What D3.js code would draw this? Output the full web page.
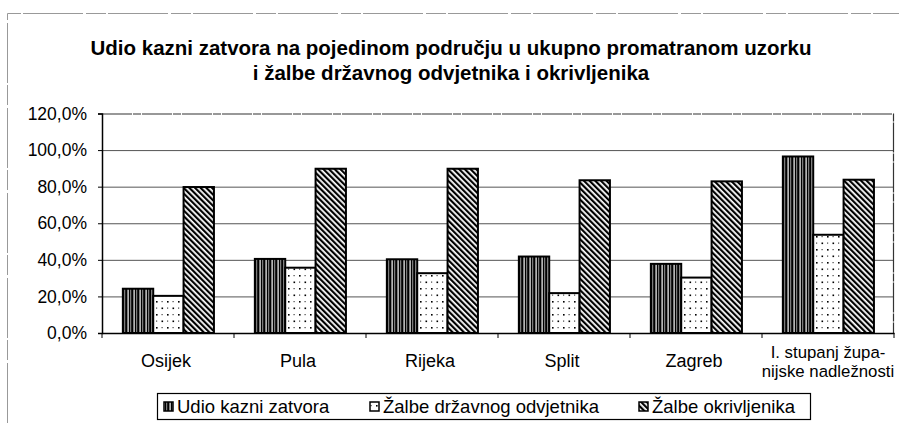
<!DOCTYPE html>
<html><head><meta charset="utf-8">
<script src="https://cdn.jsdelivr.net/npm/d3@7"></script>
<style>body{margin:0;background:#fff}svg{display:block}text{font-family:"Liberation Sans",Arial,sans-serif;fill:#000}</style>
</head><body>
<script>
const categories = ["Osijek","Pula","Rijeka","Split","Zagreb","I. stupanj župa-|nijske nadležnosti"];
const seriesNames = ["Udio kazni zatvora","Žalbe državnog odvjetnika","Žalbe okrivljenika"];
const udio = [24.2, 40.5, 40.3, 41.8, 37.8, 96.5];
const zalbeDO = [20.3, 35.7, 32.7, 21.8, 30.3, 53.7];
const zalbeOkr = [79.8, 89.8, 89.8, 83.5, 82.9, 83.8];
const yTicks = [0,20,40,60,80,100,120];
const titleLines = ["Udio kazni zatvora na pojedinom području u ukupno promatranom uzorku","i žalbe državnog odvjetnika i okrivljenika"];

const W=899,H=423;
const svg=d3.select("body").append("svg").attr("width",W).attr("height",H);
const defs=svg.append("defs");
// patterns
const p1=defs.append("pattern").attr("id","pv").attr("patternUnits","userSpaceOnUse").attr("width",6).attr("height",6);
p1.append("rect").attr("width",6).attr("height",6).attr("fill","#000");
p1.append("rect").attr("x",1.5).attr("width",1.2).attr("height",6).attr("fill","#fff");
p1.append("rect").attr("x",4.2).attr("width",1).attr("height",6).attr("fill","#999");
const p2=defs.append("pattern").attr("id","pd").attr("patternUnits","userSpaceOnUse").attr("width",11).attr("height",13);
p2.append("rect").attr("width",11).attr("height",13).attr("fill","#fff");
p2.append("rect").attr("x",2).attr("y",2).attr("width",1.6).attr("height",1.6).attr("fill","#000");
p2.append("rect").attr("x",7.5).attr("y",8.5).attr("width",1.6).attr("height",1.6).attr("fill","#000");
p2.append("rect").attr("x",7.5).attr("y",2).attr("width",1.2).attr("height",1.2).attr("fill","#444");
p2.append("rect").attr("x",2).attr("y",8.5).attr("width",1.2).attr("height",1.2).attr("fill","#444");
const p3=defs.append("pattern").attr("id","pg").attr("patternUnits","userSpaceOnUse").attr("width",4).attr("height",4).attr("patternTransform","rotate(-45)");
p3.append("rect").attr("width",4).attr("height",4).attr("fill","#fff");
p3.append("rect").attr("width",2.2).attr("height",4).attr("fill","#000");
const fills=["url(#pv)","url(#pd)","url(#pg)"];

// outer frame (scan)
svg.append("path").attr("d","M7.5,423V13.5H899").attr("fill","none").attr("stroke","#999").attr("stroke-width",1).attr("stroke-dasharray","60,3,20,2");

// title
svg.selectAll("text.title").data(titleLines).join("text").attr("class","title")
 .attr("x",451).attr("y",(d,i)=>55+i*25).attr("text-anchor","middle")
 .attr("font-size",20.5).attr("font-weight","bold").text(d=>d);

const x0=102,x1=894,yb=333,yt=113.5;
const x=d3.scaleBand().domain(categories).range([x0,x1]).padding(0);
const xs=d3.scaleBand().domain(seriesNames).range([x.bandwidth()*0.158,x.bandwidth()*0.848]).padding(0);
const y=d3.scaleLinear().domain([0,120]).range([yb,yt]);

// gridlines
svg.append("g").selectAll("line").data(yTicks.filter(t=>t>0&&t<120)).join("line")
 .attr("x1",x0).attr("x2",x1).attr("y1",d=>y(d)+0.5).attr("y2",d=>y(d)+0.5).attr("stroke","#555").attr("stroke-width",1);
// plot border
svg.append("path").attr("d",`M${x0},${y(120)+0.5}H${x1-0.5}V${yb}`).attr("fill","none").attr("stroke","#333").attr("stroke-width",1.2).attr("stroke-dasharray","30,1,8,1");

// bars
const data=[udio,zalbeDO,zalbeOkr];
const g=svg.append("g");
categories.forEach((c,ci)=>{
  seriesNames.forEach((s,si)=>{
    const v=data[si][ci];
    g.append("rect").attr("x",x(c)+xs(s)).attr("y",y(v)).attr("width",xs.bandwidth()).attr("height",yb-y(v))
     .attr("fill",fills[si]).attr("stroke","#000").attr("stroke-width",2);
  });
});

// y axis
const ya=svg.append("g").attr("transform",`translate(${x0},0)`)
 .call(d3.axisLeft(y).tickValues(yTicks).tickSize(4).tickPadding(11).tickFormat(d=>d.toFixed(1).replace(".",",")+"%"));
ya.select(".domain").attr("stroke","#000").attr("stroke-width",1.5);
ya.selectAll("text").attr("font-size",17.5).attr("font-family","Liberation Sans, Arial, sans-serif").attr("fill","#000");
// x axis
const xa=svg.append("g").attr("transform",`translate(0,${yb})`)
 .call(d3.axisBottom(x).tickSize(0).tickFormat(""));
xa.select(".domain").attr("stroke","#000").attr("stroke-width",1.5);
const bounds=[x0].concat(categories.map(c=>x(c)+x.bandwidth()));
svg.append("g").selectAll("line").data(bounds).join("line").attr("x1",d=>d).attr("x2",d=>d).attr("y1",yb).attr("y2",yb+5).attr("stroke","#000");
categories.forEach(c=>{
  const parts=c.split("|");
  const cx=x(c)+x.bandwidth()/2;
  if(parts.length===1){
    svg.append("text").attr("x",cx-2).attr("y",367).attr("text-anchor","middle").attr("font-size",18).text(c);
  } else {
    parts.forEach((p,i)=>svg.append("text").attr("x",cx).attr("y",358+i*18.5).attr("text-anchor","middle").attr("font-size",16.8).text(p));
  }
});

// legend
svg.append("rect").attr("x",157.5).attr("y",393.5).attr("width",653).attr("height",26).attr("fill","#fff").attr("stroke","#000").attr("stroke-width",1.2);
const legX=[164,370,639];
seriesNames.forEach((s,i)=>{
  svg.append("rect").attr("x",legX[i]).attr("y",402).attr("width",9).attr("height",9).attr("fill",fills[i]).attr("stroke","#000").attr("stroke-width",1.5);
  svg.append("text").attr("x",legX[i]+13).attr("y",413).attr("font-size",18.5).text(s);
});
</script>
</body></html>
